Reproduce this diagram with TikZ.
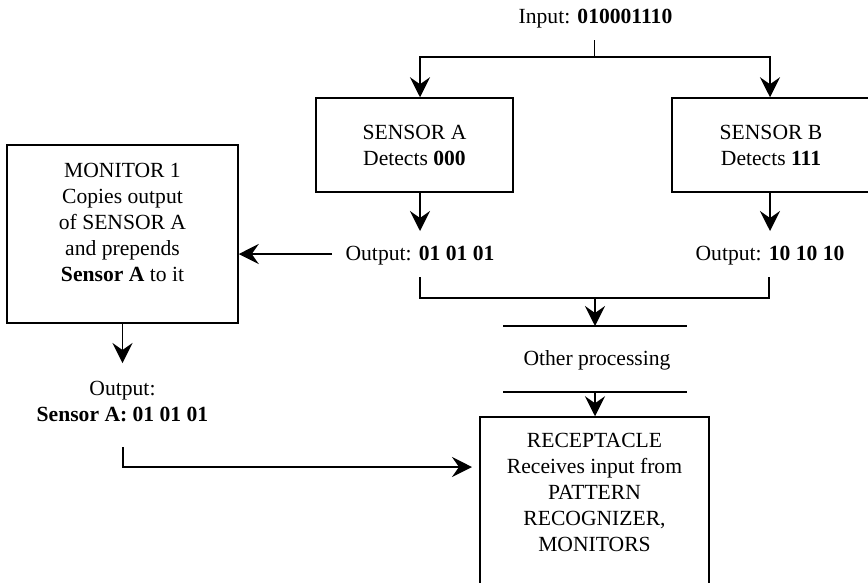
\documentclass[tikz,border=0pt]{standalone}
\usepackage{fontspec}
\setmainfont{Liberation Serif}
\usetikzlibrary{arrows.meta}
\begin{document}
\begin{tikzpicture}[x=1pt,y=-1pt,
  every node/.style={font=\fontsize{21.6}{26}\selectfont, inner sep=0pt},
  box/.style={draw, line width=1.5pt, align=center},
  conn/.style={line width=1.6pt},
  arr/.style={conn, -{Stealth[length=20pt,width=20pt,inset=7pt]}},
  lbl/.style={align=center}]
\useasboundingbox (0,0) rectangle (868,582);
% texts and boxes
\node[anchor=base] (inp) at (595.5,23) {Input: \textbf{010001110}};
\node[box, minimum width=197pt, minimum height=94pt] (sa) at (414.5,145) {SENSOR A\\Detects \textbf{000}};
\node[box, minimum width=198pt, minimum height=94pt] (sb) at (771,145) {SENSOR B\\Detects \textbf{111}};
\node[box, minimum width=231pt, minimum height=178pt] (mon) at (122.5,234) {};
\node[lbl] (montxt) at (122.5,222) {MONITOR 1\\Copies output\\of SENSOR A\\and prepends\\\textbf{Sensor A} to it};
\node[anchor=base] (outa) at (420,260) {Output: \textbf{01 01 01}};
\node[anchor=base] (outb) at (770,260) {Output: \textbf{10 10 10}};
\node[lbl] (outm) at (122.5,401) {Output:\\\textbf{Sensor A: 01 01 01}};
\node[anchor=base] (oth) at (597,365) {Other processing};
\node[box, minimum width=229pt, minimum height=180pt] (rec) at (594.5,507) {};
\node[lbl] (rectxt) at (594.5,492) {RECEPTACLE\\Receives input from\\PATTERN\\RECOGNIZER,\\MONITORS};
% coordinates
\coordinate (inS) at (594.5,40);
\coordinate (split) at (594.5,57);
\coordinate (oat) at (420,231);
\coordinate (obt) at (770,231);
\coordinate (la) at (332,254);
\coordinate (mt) at (122.5,363);
\coordinate (bl) at (420,277);
\coordinate (br) at (769,277);
\coordinate (bm) at (595,298);
\coordinate (t1) at (503,326);
\coordinate (t2) at (687,326);
\coordinate (b1) at (503,392);
\coordinate (b2) at (687,392);
\coordinate (ls) at (123,447);
\coordinate (lr) at (480,467);
% connectors
\draw[conn] (inS) -- (split);
\draw[arr] (split) -| ([xshift=5.5pt]sa.north);
\draw[arr] (split) -| (obt |- sb.north);
\draw[arr] (oat |- sa.south) -- (oat);
\draw[arr] (obt |- sb.south) -- (obt);
\draw[arr] (la) -- (la -| mon.east);
\draw[arr] (mon.south) -- (mt);
\draw[conn] (bl) |- (br |- bm) -- (br);
\draw[conn] (t1) -- (t2);
\draw[conn] (b1) -- (b2);
\draw[arr] (bm) -- (bm |- t1);
\draw[arr] (bm |- b1) -- (bm |- rec.north);
\draw[arr, shorten >=8pt] (ls) |- (lr);
\end{tikzpicture}
\end{document}
